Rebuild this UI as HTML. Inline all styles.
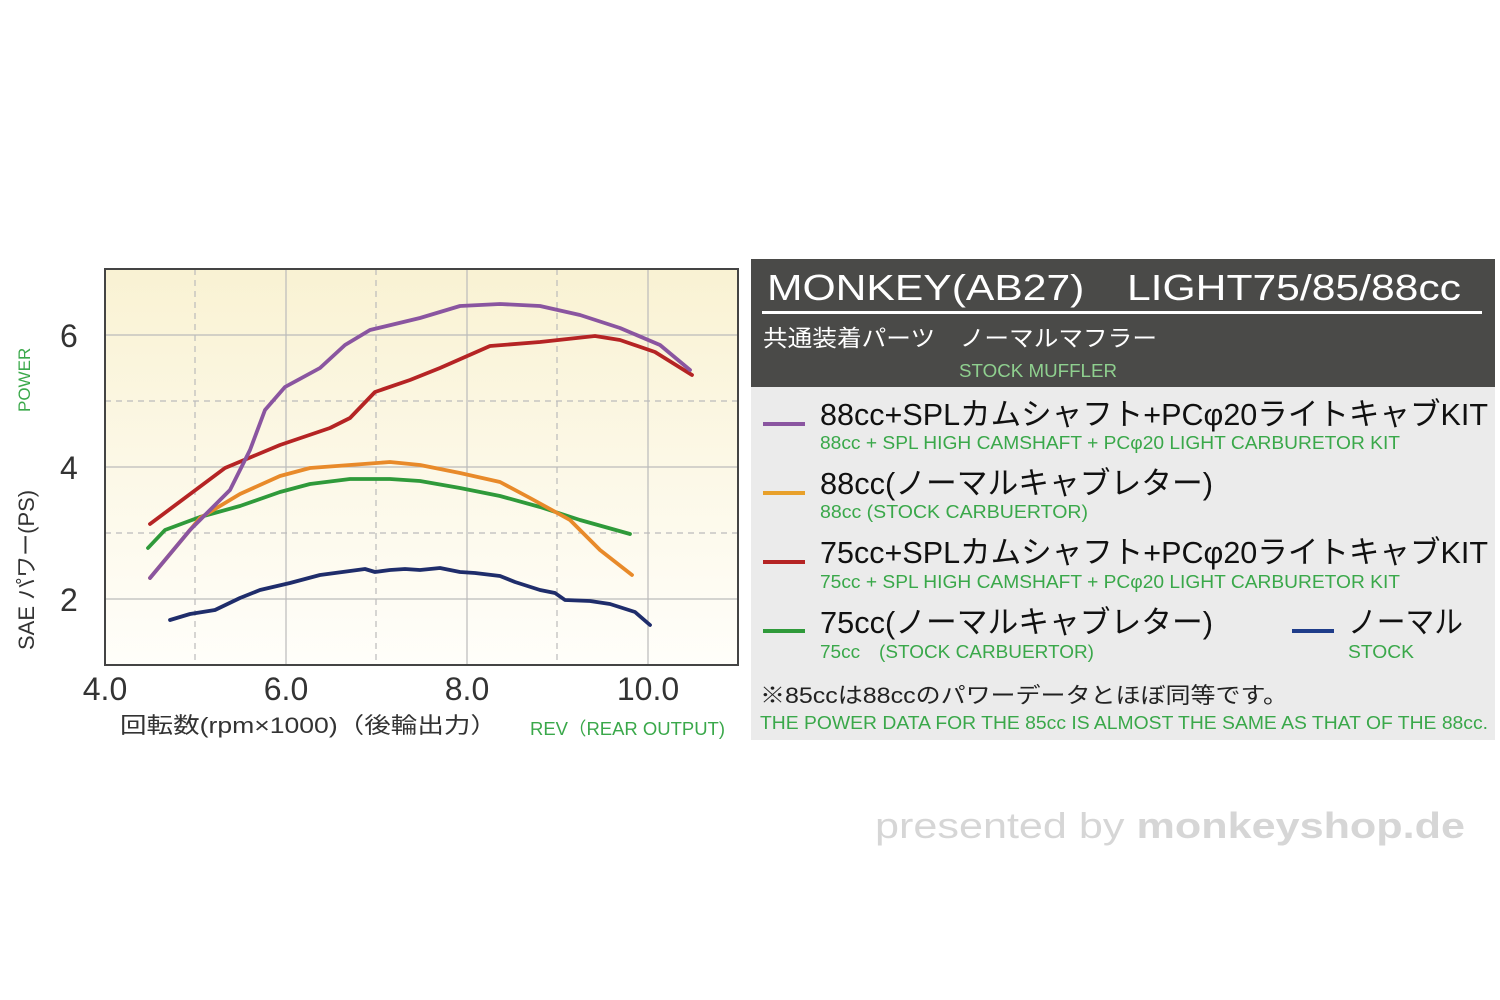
<!DOCTYPE html>
<html><head><meta charset="utf-8"><style>
body{margin:0;width:1500px;height:1000px;background:#fff;overflow:hidden;font-family:"Liberation Sans","Noto Sans CJK JP",sans-serif;}
</style></head><body>
<svg width="1500" height="1000" xmlns="http://www.w3.org/2000/svg" style="position:absolute;left:0;top:0">
<defs><linearGradient id="bg" x1="0" y1="0" x2="0" y2="1"><stop offset="0" stop-color="#f9f2d3"/><stop offset="1" stop-color="#fffefa"/></linearGradient></defs>
<rect x="105" y="269" width="633" height="396" fill="url(#bg)"/>
<g stroke="#bbb" stroke-width="1.2">
<line x1="105" y1="335" x2="738" y2="335"/><line x1="105" y1="467" x2="738" y2="467"/><line x1="105" y1="599" x2="738" y2="599"/>
<line x1="286" y1="269" x2="286" y2="665"/><line x1="467" y1="269" x2="467" y2="665"/><line x1="648" y1="269" x2="648" y2="665"/>
</g>
<g stroke="#bbb" stroke-width="1.2" stroke-dasharray="6,5">
<line x1="105" y1="401" x2="738" y2="401"/><line x1="105" y1="533" x2="738" y2="533"/>
<line x1="195" y1="269" x2="195" y2="665"/><line x1="376" y1="269" x2="376" y2="665"/><line x1="557" y1="269" x2="557" y2="665"/>
</g>
<rect x="105" y="269" width="633" height="396" fill="none" stroke="#444" stroke-width="2"/>
<g fill="none" stroke-width="3.8" stroke-linejoin="round" stroke-linecap="round">
<polyline stroke="#1f2d6b" points="170,620 190,614 215,610 240,598 260,590 290,583 320,575 350,571 365,569 375,572 390,570 405,569 420,570 440,568 460,572 475,573 500,576 515,582 540,590 555,593 565,600 590,601 610,604 635,612 650,625"/>
<polyline stroke="#2f9a3a" points="148,548 165,530 200,517 240,506 280,492 310,484 350,479 390,479 420,481 460,488 500,496 540,507 580,520 630,534"/>
<polyline stroke="#e88a2a" points="150,578 200,518 240,494 280,476 310,468 350,465 390,462 420,465 460,473 500,482 530,498 570,520 600,550 632,575"/>
<polyline stroke="#b52424" points="150,524 225,468 280,445 330,428 350,418 375,392 410,380 440,368 490,346 540,342 595,336 620,340 655,352 692,375"/>
<polyline stroke="#8a55a0" points="150,578 190,530 230,490 250,450 265,410 285,387 320,368 345,345 370,330 420,318 460,306 500,304 540,306 580,315 620,328 660,345 690,370"/>
</g>
<g font-size="32" fill="#333">
<text x="60" y="347">6</text><text x="60" y="479">4</text><text x="60" y="611">2</text>
<text x="105" y="700" text-anchor="middle">4.0</text><text x="286" y="700" text-anchor="middle">6.0</text><text x="467" y="700" text-anchor="middle">8.0</text><text x="648" y="700" text-anchor="middle">10.0</text>
</g>
<text transform="translate(34,650) rotate(-90)" font-size="22" fill="#333">SAE パワー(PS)</text>
<text transform="translate(30,412) rotate(-90)" font-size="17" fill="#3aa84a">POWER</text>
<text x="120" y="733" font-size="22" fill="#333" textLength="377" lengthAdjust="spacingAndGlyphs">回転数(rpm×1000)（後輪出力）</text>
<text x="530" y="735" font-size="18" fill="#3aa84a" textLength="195" lengthAdjust="spacingAndGlyphs">REV（REAR OUTPUT)</text>
<rect x="751" y="259" width="744" height="128" fill="#4a4a48"/>
<rect x="751" y="387" width="744" height="353" fill="#ebebeb"/>
<text x="767" y="300" font-size="36" fill="#fff" textLength="694" lengthAdjust="spacingAndGlyphs">MONKEY(AB27)　LIGHT75/85/88cc</text>
<rect x="762" y="311" width="720" height="3" fill="#fff"/>
<text x="763" y="346" font-size="23" fill="#fff" textLength="394" lengthAdjust="spacingAndGlyphs">共通装着パーツ　ノーマルマフラー</text>
<text x="959" y="377" font-size="18" fill="#8fd08f" textLength="158" lengthAdjust="spacingAndGlyphs">STOCK MUFFLER</text>
<g stroke-width="4">
<line x1="763" y1="424" x2="805" y2="424" stroke="#8a55a0"/>
<line x1="763" y1="493" x2="805" y2="493" stroke="#e8a02a"/>
<line x1="763" y1="562" x2="805" y2="562" stroke="#b52424"/>
<line x1="763" y1="631" x2="805" y2="631" stroke="#2f9a3a"/>
<line x1="1292" y1="631" x2="1334" y2="631" stroke="#1f3d8a"/>
</g>
<g font-size="31" fill="#111">
<text x="820" y="425" textLength="668" lengthAdjust="spacingAndGlyphs">88cc+SPLカムシャフト+PCφ20ライトキャブKIT</text>
<text x="820" y="494" textLength="393" lengthAdjust="spacingAndGlyphs">88cc(ノーマルキャブレター)</text>
<text x="820" y="563" textLength="668" lengthAdjust="spacingAndGlyphs">75cc+SPLカムシャフト+PCφ20ライトキャブKIT</text>
<text x="820" y="633" textLength="393" lengthAdjust="spacingAndGlyphs">75cc(ノーマルキャブレター)</text>
<text x="1348" y="633" textLength="115" lengthAdjust="spacingAndGlyphs">ノーマル</text>
</g>
<g font-size="18" fill="#3aa84a">
<text x="820" y="449" textLength="580" lengthAdjust="spacingAndGlyphs">88cc + SPL HIGH CAMSHAFT + PCφ20 LIGHT CARBURETOR KIT</text>
<text x="820" y="518" textLength="268" lengthAdjust="spacingAndGlyphs">88cc (STOCK CARBUERTOR)</text>
<text x="820" y="588" textLength="580" lengthAdjust="spacingAndGlyphs">75cc + SPL HIGH CAMSHAFT + PCφ20 LIGHT CARBURETOR KIT</text>
<text x="820" y="658" textLength="274" lengthAdjust="spacingAndGlyphs">75cc　(STOCK CARBUERTOR)</text>
<text x="1348" y="658" textLength="66" lengthAdjust="spacingAndGlyphs">STOCK</text>
<text x="760" y="729" textLength="728" lengthAdjust="spacingAndGlyphs">THE POWER DATA FOR THE 85cc IS ALMOST THE SAME AS THAT OF THE 88cc.</text>
</g>
<text x="760" y="703" font-size="22" fill="#222" textLength="528" lengthAdjust="spacingAndGlyphs">※85ccは88ccのパワーデータとほぼ同等です。</text>
<text x="875" y="838" font-size="36" fill="#d6d6d6" textLength="590" lengthAdjust="spacingAndGlyphs">presented by <tspan font-weight="bold">monkeyshop.de</tspan></text>
</svg>
</body></html>
